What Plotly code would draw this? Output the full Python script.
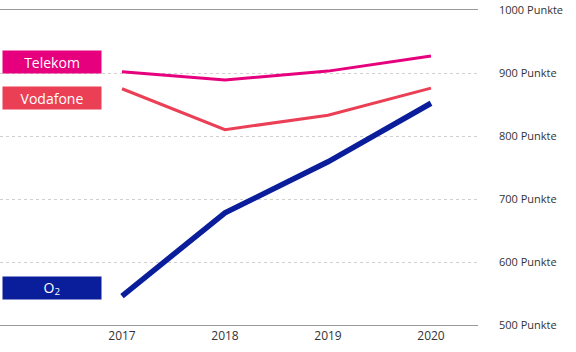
import plotly.graph_objects as go

years = [2017, 2018, 2019, 2020]
telekom = [902, 889, 903, 927]
vodafone = [875, 810, 833, 876]
o2 = [546, 678, 759, 852]
tick_vals = [500, 600, 700, 800, 900, 1000]
tick_text = [f"{v} Punkte" for v in tick_vals]

C_TEL = "#E6007E"
C_VOD = "#EB3F55"
C_O2 = "#0A1E9C"

fig = go.Figure()
fig.add_trace(go.Scatter(x=years, y=telekom, mode="lines", line=dict(color=C_TEL, width=3), name="Telekom"))
fig.add_trace(go.Scatter(x=years, y=vodafone, mode="lines", line=dict(color=C_VOD, width=3), name="Vodafone"))
fig.add_trace(go.Scatter(x=years, y=o2, mode="lines", line=dict(color=C_O2, width=5.5), name="O2"))

W_PLOT = 478
px = 1 / W_PLOT

def label(text, yv, color):
    return dict(x=2 * px, y=yv, xref="paper", yref="y", xanchor="left", yanchor="middle",
                text=text, showarrow=False, bgcolor=color, width=98, height=22, borderpad=0,
                align="center", font=dict(color="white", size=14, family="Open Sans"))

fig.update_layout(
    width=576, height=352,
    margin=dict(l=0, r=576 - W_PLOT, t=10, b=27),
    paper_bgcolor="white", plot_bgcolor="white",
    showlegend=False,
    font=dict(family="Open Sans", size=12, color="#333333"),
    xaxis=dict(range=[2017 - 122 / 103, 2020 + 47 / 103], tickvals=years, ticktext=[str(y) for y in years],
               showgrid=False, zeroline=False, showline=True, mirror=True, linecolor="#9a9a9a", linewidth=1,
               ticks="", fixedrange=True),
    yaxis=dict(range=[500, 1000], tickvals=tick_vals, ticktext=tick_text, side="right",
               showgrid=True, gridcolor="#cfcfcf", griddash="3px,3px", gridwidth=1,
               zeroline=False, ticks="", ticklabelstandoff=20, fixedrange=True,
               tickfont=dict(size=11)),
    annotations=[label("Telekom", 918, C_TEL), label("Vodafone", 860, C_VOD),
                 label("O<sub>2</sub>", 559, C_O2)],
)

fig.write_html("out.html")
